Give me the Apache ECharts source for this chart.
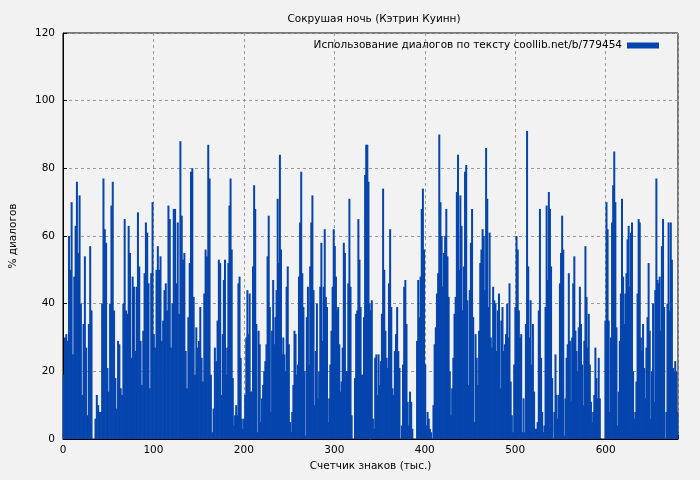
<!DOCTYPE html>
<html><head><meta charset="utf-8">
<script src="https://cdn.jsdelivr.net/npm/echarts@6/dist/echarts.min.js"></script>
<style>html,body{margin:0;background:#f2f2f2}#c{width:700px;height:480px}</style>
</head><body><div id="c"></div>
<script>
const title = "Сокрушая ночь (Кэтрин Куинн)";
const seriesName = "Использование диалогов по тексту coollib.net/b/779454";
const xTicks = [0,100,200,300,400,500,600];
const yTicks = [0,20,40,60,80,100,120];
const seg1Range = [0,176];
const seg1 = [19,30,31,29,60,50,70,25,48,63,76,55,72,40,13,34,54,27,7,34,57,38,0,0,6,13,10,8,8,40,77,62,58,21,14,40,69,76,38,18,9,29,28,15,13,40,65,38,37,63,55,24,48,45,26,45,67,51,29,16,32,49,64,61,46,15,49,70,31,27,50,57,50,54,29,35,44,46,38,69,65,27,40,68,68,46,64,37,88,66,53,55,26,15,36,52,79,80,42,19,33,27,29,39,24,17,43,56,54,87,77,19,2,9,27,23,35,53,52,13];
const seg2Range = [176,352];
const seg2 = [31,47,53,19,27,52,69,77,56,18,4,7,10,7,46,48,24,6,3,6,13,30,44,31,43,14,14,51,75,68,34,2,32,28,5,12,16,20,23,28,54,66,39,8,32,47,28,36,44,71,52,84,56,25,30,25,20,45,51,28,5,2,8,16,32,31,19,22,48,64,79,49,39,20,1,36,45,22,51,64,72,44,10,26,40,12,20,45,58,29,45,62,42,39,5,12,22,32,45,62,57,48,38,39,28,14,17,27,58,55,20,20,46,71,45,7,0,0,18,37,38,65,53,39,19,19,36,78,87,87,76,40,38,41,6,3,24,25,13,25,16,23];
const seg3Range = [352,528];
const seg3 = [37,74,50,32,24,21,46,62,39,15,13,26,31,39,26,21,0,4,22,45,47,34,11,4,14,11,3,0,0,0,29,47,36,48,68,74,56,22,4,8,6,3,2,0,10,28,33,43,49,90,70,60,45,55,60,68,54,42,20,7,15,24,37,42,73,84,50,72,63,38,51,79,81,41,16,44,58,68,36,5,31,24,16,32,52,56,62,60,44,86,71,39,61,30,27,45,41,40,26,38,43,15,35,39,26,28,31,40,30,46,17,7,2,22,39,60,56,38,30,31,2,12,2,34,91,51,30,41,22,34,14,3,3,5,38,68];
const seg4Range = [528,680];
const seg4 = [24,8,2,4,39,69,47,73,68,51,18,0,8,25,13,6,13,46,55,66,56,1,12,24,28,49,29,11,30,46,54,32,26,20,33,45,34,22,10,29,57,42,27,37,22,11,5,8,13,27,18,12,24,12,0,0,0,0,35,70,62,35,8,30,64,75,85,70,33,4,14,29,43,71,48,34,43,49,59,63,45,61,64,20,6,8,17,43,65,64,30,26,34,21,12,27,36,52,32,6,20,40,11,44,77,47,46,48,32,57,65,39,0,8,40,64,38,64,53,21,20,23,20,8];

const data = [];
[[seg1,seg1Range],[seg2,seg2Range],[seg3,seg3Range],[seg4,seg4Range]].forEach(([s,r])=>{
  const step=(r[1]-r[0])/s.length;
  s.forEach((v,i)=>data.push([r[0]+(i+0.5)*step, v]));
});
const font = "DejaVu Sans";
const chart = echarts.init(document.getElementById('c'));
chart.setOption({
  backgroundColor:'#f2f2f2',
  animation:false,
  textStyle:{fontFamily:font},
  title:{text:title,left:369,textAlign:'center',top:9,textStyle:{fontSize:10.5,fontWeight:'normal',color:'#000',fontFamily:font}},
  legend:{right:36,top:35,itemWidth:32,itemHeight:6,itemGap:8,align:'right',
    textStyle:{fontSize:10.5,color:'#000',fontFamily:font},data:[{name:seriesName,icon:'rect'}]},
  grid:{left:60,right:22,top:33,bottom:41,show:true,borderColor:'#000',borderWidth:1},
  xAxis:{type:'value',min:0,max:680,interval:100,
    name:"Счетчик знаков (тыс.)",nameLocation:'middle',nameGap:22,nameTextStyle:{fontSize:10.5,color:'#000'},
    axisLine:{lineStyle:{color:'#000'}},axisTick:{show:true,inside:true,length:4,lineStyle:{color:'#000'}},
    axisLabel:{fontSize:10.5,color:'#000',margin:6,formatter:v=>xTicks.includes(v)?String(v):''},
    splitLine:{show:true,lineStyle:{color:'#999',type:[3,3]}}},
  yAxis:{type:'value',min:0,max:120,interval:20,
    name:"% диалогов",nameLocation:'middle',nameGap:44,nameTextStyle:{fontSize:10.5,color:'#000'},
    axisLine:{show:true,lineStyle:{color:'#000'}},axisTick:{show:true,inside:true,length:4,lineStyle:{color:'#000'}},
    axisLabel:{fontSize:10.5,color:'#000',margin:8,formatter:v=>yTicks.includes(v)?String(v):''},
    splitLine:{show:true,lineStyle:{color:'#999',type:[3,3]}}},
  series:[{name:seriesName,type:'bar',data:data,barWidth:2,itemStyle:{color:'#0645ad'},z:3}]
});
</script></body></html>
